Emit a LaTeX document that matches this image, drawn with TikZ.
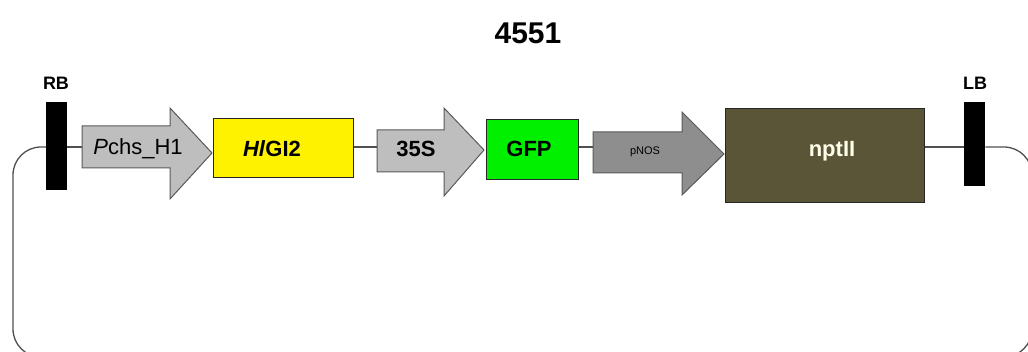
\documentclass[tikz,border=0pt]{standalone}
\usepackage{fontspec}
\setmainfont{Liberation Sans}
\definecolor{lightgrey}{HTML}{BEBEBE}
\definecolor{darkgrey}{HTML}{8E8E8E}
\definecolor{olive}{HTML}{5A5537}
\definecolor{genegreen}{HTML}{00F000}
\definecolor{lineclr}{HTML}{505050}
\begin{document}
\begin{tikzpicture}[x=1pt,y=-1pt,
  conn/.style={draw=lineclr, line width=1.3pt},
  genebox/.style={draw=black!85, line width=1.3pt, inner sep=0pt, anchor=north west},
  border/.style={fill=black, inner sep=0pt, minimum width=21pt, anchor=north west},
  arrowpath/.style={draw=black!65, line width=1pt, line join=miter},
  lbl/.style={inner sep=0pt, font=\fontsize{22}{24}\selectfont\bfseries}]
\useasboundingbox (0,0) rectangle (1028,352);
% title
\node[inner sep=0pt, font=\fontsize{30}{32}\selectfont\bfseries] (title) at (528,33) {4551};
% borders
\node[border, minimum height=88pt] (rb) at (46,102) {};
\node[border, minimum height=84pt] (lb) at (964,102) {};
\node[inner sep=0pt, font=\fontsize{18}{20}\selectfont\bfseries] (rbl) at (56,83) {RB};
\node[inner sep=0pt, font=\fontsize{18}{20}\selectfont\bfseries] (lbl) at (975,83) {LB};
% boxes
\node[genebox, fill=yellow, minimum width=140pt, minimum height=59pt] (hl) at (213,118) {};
\node[genebox, fill=genegreen, minimum width=92pt, minimum height=60pt] (gfp) at (486,119) {};
\node[genebox, fill=olive, minimum width=199pt, minimum height=94pt] (npt) at (725,108) {};
% arrows
\draw[arrowpath, fill=lightgrey] (82,126) -- (170,126) -- (170,108) -- (212,153) -- (170,199) -- (170,168) -- (82,168) -- cycle;
\draw[arrowpath, fill=lightgrey] (377,130) -- (444,130) -- (444,108) -- (484,150) -- (444,196) -- (444,172) -- (377,172) -- cycle;
\draw[arrowpath, fill=darkgrey] (593,132) -- (682,132) -- (682,112) -- (724,154) -- (682,195) -- (682,173) -- (593,173) -- cycle;
\coordinate (pchsT) at (82,147);
\coordinate (s35T) at (377,147);
\coordinate (pnosT) at (593,147);
% labels
\node[inner sep=0pt, font=\fontsize{22}{24}\selectfont] (pchs) at (138,149) {\textit{P}chs\_H1};
\node[lbl] (hll) at (272,149) {\textit{Hl}GI2};
\node[lbl] (s35) at (416,149) {35S};
\node[lbl] (gfpl) at (529,149) {GFP};
\node[inner sep=0pt, font=\fontsize{11}{12}\selectfont] (pnos) at (645,152) {pNOS};
\node[lbl, text=white!92!yellow] (nptl) at (832,151) {nptII};
% connectors
\draw[conn] (rb.east |- pchsT) -- (pchsT);
\draw[conn] (hl.east |- s35T) -- (s35T);
\draw[conn] (gfp.east |- pnosT) -- (pnosT);
\draw[conn] (npt.east |- 0,147) -- (lb.west |- 0,147);
\draw[conn, rounded corners=28pt] (rb.west |- 0,147) -- (13,147) -- (13,357) -- (1032,357) -- (1032,147) -- (lb.east |- 0,147);
\end{tikzpicture}
\end{document}
